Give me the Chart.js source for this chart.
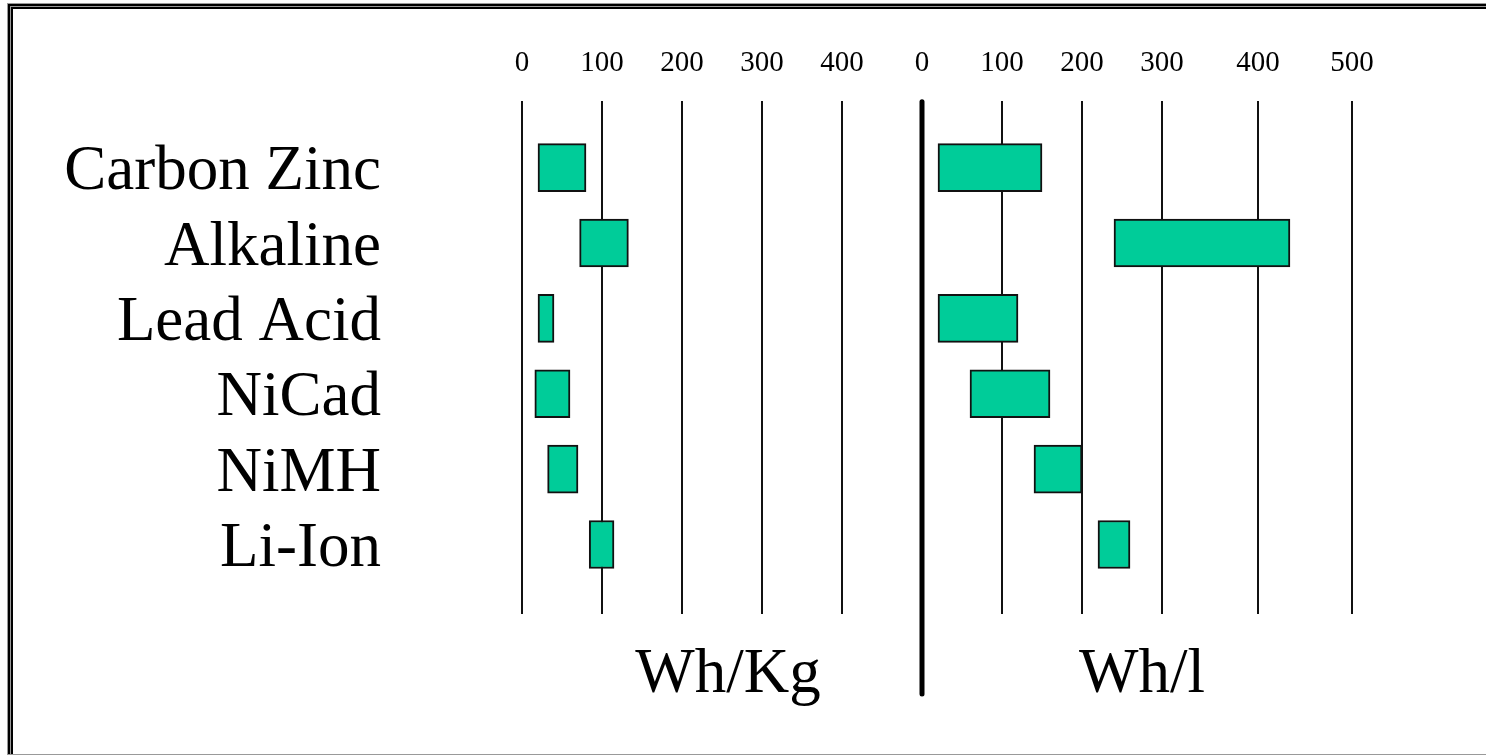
<!DOCTYPE html>
<html>
<head>
<meta charset="utf-8">
<script src="https://cdn.jsdelivr.net/npm/chart.js@4/dist/chart.umd.min.js"></script>
<style>
  html, body { margin: 0; padding: 0; background: #fff; overflow: hidden; }
  #wrap { position: relative; width: 1486px; height: 756px; }
  #frame {
    position: absolute; left: 7px; top: 3px; width: 1500px; height: 750px;
    border: 1px solid #999; border-right: none;
    box-shadow: inset 2px 2px 0 0 #000, inset 3px 3px 0 0 #999, inset 5px 5px 0 0 #000;
  }
  #chart { position: absolute; left: 0; top: 0; }
</style>
</head>
<body>
<div id="wrap">
  <div id="frame"></div>
  <canvas id="chart" width="1486" height="756"></canvas>
</div>
<script>
// батареи и диапазоны удельной энергии
const batteries = ['Carbon Zinc', 'Alkaline', 'Lead Acid', 'NiCad', 'NiMH', 'Li-Ion'];
const whKgLow  = [20, 72, 20, 16, 32, 84];
const whKgHigh = [80, 133, 40, 60, 70, 115];
const whLLow   = [20, 240, 20, 60, 140, 220];
const whLHigh  = [150, 434, 120, 160, 200, 260];
const axisTitles = ['Wh/Kg', 'Wh/l'];

const serif = '"Liberation Serif", "Times New Roman", serif';

// правая шкала в оригинале нарисована неравномерно
const Base = Chart.LinearScale || Chart.registry.getScale('linear');
class WarpScale extends Base {
  _toFrac(v) {
    const s = this.options.stops;
    if (v <= s[0][0]) return s[0][1];
    for (let i = 1; i < s.length; i++) {
      if (v <= s[i][0]) {
        const t = (v - s[i - 1][0]) / (s[i][0] - s[i - 1][0]);
        return s[i - 1][1] + t * (s[i][1] - s[i - 1][1]);
      }
    }
    return s[s.length - 1][1];
  }
  getPixelForValue(value) {
    if (value === null || isNaN(value)) return NaN;
    return this.getPixelForDecimal(this._toFrac(value));
  }
  getValueForPixel(pixel) {
    const f = this.getDecimalForPixel(pixel);
    const s = this.options.stops;
    for (let i = 1; i < s.length; i++) {
      if (f <= s[i][1]) {
        const t = (f - s[i - 1][1]) / (s[i][1] - s[i - 1][1]);
        return s[i - 1][0] + t * (s[i][0] - s[i - 1][0]);
      }
    }
    return s[s.length - 1][0];
  }
}
WarpScale.id = 'warp';
WarpScale.defaults = {};
Chart.register(WarpScale);

const overlay = {
  id: 'overlay',
  afterDraw(chart) {
    const {ctx, chartArea, scales} = chart;
    const xs = scales.xR.left;
    ctx.save();
    ctx.strokeStyle = '#000';
    ctx.lineWidth = 5;
    ctx.lineCap = 'round';
    ctx.beginPath();
    ctx.moveTo(xs, chartArea.top + 1);
    ctx.lineTo(xs, chartArea.bottom + 80);
    ctx.stroke();

    ctx.fillStyle = '#000';
    ctx.font = '63px ' + serif;
    ctx.textAlign = 'center';
    ctx.textBaseline = 'alphabetic';
    ctx.fillText(axisTitles[0], (scales.xL.left + scales.xL.right) / 2 + 6, chartArea.bottom + 78);
    ctx.fillText(axisTitles[1], (scales.xR.left + scales.xR.right) / 2 + 5, chartArea.bottom + 78);
    ctx.restore();
  }
};

const barStyle = {
  backgroundColor: '#00CC99',
  borderColor: '#111',
  borderWidth: 2,
  borderSkipped: false,
  barThickness: 48,
  grouped: false
};

const tickFont = { family: serif, size: 29 };

new Chart(document.getElementById('chart'), {
  type: 'bar',
  data: {
    datasets: [
      Object.assign({
        label: axisTitles[0],
        xAxisID: 'xL',
        yAxisID: 'y',
        data: batteries.map((b, i) => ({y: i, x: [whKgLow[i], whKgHigh[i]]}))
      }, barStyle),
      Object.assign({
        label: axisTitles[1],
        xAxisID: 'xR',
        yAxisID: 'y',
        data: batteries.map((b, i) => ({y: i, x: [whLLow[i], whLHigh[i]]}))
      }, barStyle)
    ]
  },
  plugins: [overlay],
  options: {
    indexAxis: 'y',
    responsive: false,
    animation: false,
    layout: { padding: { left: 0, top: 26, right: 134, bottom: 142 } },
    plugins: { legend: { display: false }, tooltip: { enabled: false } },
    scales: {
      // верхние оси стоят в одном стеке; Chart.js кладёт их справа налево
      xR: {
        type: 'warp',
        position: 'top',
        stack: 'top',
        stackWeight: 430,
        min: 0,
        max: 500,
        stops: [[0, 0], [100, 80 / 430], [200, 160 / 430], [300, 240 / 430], [400, 336 / 430], [500, 1]],
        border: { display: false },
        grid: { drawTicks: false, lineWidth: 2, color: '#111' },
        ticks: {
          stepSize: 100,
          autoSkip: false,
          maxRotation: 0,
          padding: 20,
          color: '#000',
          font: tickFont
        }
      },
      xL: {
        type: 'linear',
        position: 'top',
        stack: 'top',
        stackWeight: 400,
        min: 0,
        max: 500,
        border: { display: false },
        grid: {
          drawTicks: false,
          lineWidth: 2,
          color: (c) => (c.tick && c.tick.value === 500) ? 'rgba(0,0,0,0)' : '#111'
        },
        ticks: {
          stepSize: 100,
          autoSkip: false,
          maxRotation: 0,
          padding: 20,
          color: '#000',
          font: tickFont,
          callback: (v) => v === 500 ? '' : v
        }
      },
      y: {
        type: 'linear',
        position: 'left',
        reverse: true,
        offset: false,
        min: -0.886,
        max: 5.922,
        border: { display: false },
        grid: { display: false, drawTicks: false, offset: false },
        afterFit: (scale) => {
          scale.width = 522;
          scale.paddingTop = 0;
          scale.paddingBottom = 0;
        },
        ticks: {
          stepSize: 1,
          includeBounds: false,
          autoSkip: false,
          padding: 141,
          labelOffset: 5,
          color: '#000',
          font: { family: serif, size: 63 },
          callback: (v) => Number.isInteger(v) && batteries[v] !== undefined ? batteries[v] : ''
        }
      }
    }
  }
});
</script>
</body>
</html>
